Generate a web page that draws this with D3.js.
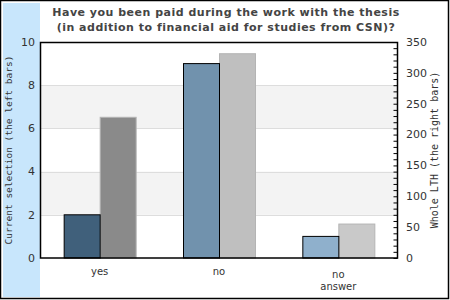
<!DOCTYPE html>
<html>
<head>
<meta charset="utf-8">
<script src="https://cdn.jsdelivr.net/npm/d3@7"></script>
<style>
  body { margin: 0; background: #fff; }
  svg { display: block; }
</style>
</head>
<body>
<div id="chart"></div>
<script>
// chart data
var categories = ["yes", "no", "no answer"];
var leftValues = [2, 9, 1];          // current selection
var rightValues = [228, 331, 55];    // whole LTH
var leftColors = ["#40607b", "#7192ad", "#8fb0cc"];
var rightColors = ["#8a8a8a", "#bfbfbf", "#c9c9c9"];
var leftTicks = [0, 2, 4, 6, 8, 10];
var rightTicks = [0, 50, 100, 150, 200, 250, 300, 350];
var titleLines = ["Have you been paid during the work with the thesis",
                  "(in addition to financial aid for studies from CSN)?"];

var width = 450, height = 300;
var margin = {top: 42, right: 52, bottom: 42, left: 40};
var plotW = width - margin.left - margin.right;
var plotH = height - margin.top - margin.bottom;

var svg = d3.select("#chart").append("svg")
    .attr("width", width)
    .attr("height", height);

// side panel and frame
svg.append("rect")
    .attr("x", 3).attr("y", 3)
    .attr("width", 37).attr("height", 294)
    .attr("fill", "#c8e6fc");

svg.append("rect")
    .attr("x", 0.5).attr("y", 0.5)
    .attr("width", 448).attr("height", 298)
    .attr("fill", "none")
    .attr("stroke", "#000")
    .attr("stroke-width", 1.5);

var g = svg.append("g")
    .attr("transform", "translate(" + margin.left + "," + margin.top + ")");

var x = d3.scaleBand()
    .domain(categories)
    .range([0, plotW]);

var yLeft = d3.scaleLinear().domain([0, 10]).range([plotH, 0]);
var yRight = d3.scaleLinear().domain([0, 350]).range([plotH, 0]);

// alternating bands
var bands = [[2, 4], [6, 8]];
g.selectAll(".band")
    .data(bands)
    .enter().append("rect")
    .attr("x", 0)
    .attr("width", plotW)
    .attr("y", function(d) { return yLeft(d[1]); })
    .attr("height", function(d) { return yLeft(d[0]) - yLeft(d[1]); })
    .attr("fill", "#f3f3f3");

// grid lines
g.selectAll(".grid")
    .data(leftTicks.slice(1, -1))
    .enter().append("line")
    .attr("x1", 0).attr("x2", plotW)
    .attr("y1", function(d) { return Math.round(yLeft(d)) + 0.5; })
    .attr("y2", function(d) { return Math.round(yLeft(d)) + 0.5; })
    .attr("stroke", "#dddddd");

var barW = 36;

// right bars (whole LTH)
g.selectAll(".rbar")
    .data(rightValues)
    .enter().append("rect")
    .attr("x", function(d, i) { return x(categories[i]) + x.bandwidth() / 2 + 0.5; })
    .attr("y", function(d) { return yRight(d); })
    .attr("width", barW)
    .attr("height", function(d) { return plotH - yRight(d); })
    .attr("fill", function(d, i) { return rightColors[i]; })
    .attr("stroke", "#b4b4b4")
    .attr("stroke-width", 1);

// left bars (current selection)
g.selectAll(".lbar")
    .data(leftValues)
    .enter().append("rect")
    .attr("x", function(d, i) { return x(categories[i]) + x.bandwidth() / 2 - barW + 0.5; })
    .attr("y", function(d) { return yLeft(d); })
    .attr("width", barW)
    .attr("height", function(d) { return plotH - yLeft(d); })
    .attr("fill", function(d, i) { return leftColors[i]; })
    .attr("stroke", "#000")
    .attr("stroke-width", 1);

// plot frame
g.append("rect")
    .attr("x", 0.5).attr("y", 0.5)
    .attr("width", plotW - 1).attr("height", plotH - 0.5)
    .attr("fill", "none")
    .attr("stroke", "#000")
    .attr("stroke-width", 1.5);

// left axis labels
g.selectAll(".ltick")
    .data(leftTicks)
    .enter().append("text")
    .attr("x", -5)
    .attr("y", function(d) { return yLeft(d); })
    .attr("dy", "0.35em")
    .attr("text-anchor", "end")
    .attr("font-family", "DejaVu Sans")
    .attr("font-size", 11)
    .attr("fill", "#333")
    .text(function(d) { return d; });

// right axis with inward minor ticks
var rightAxis = d3.axisLeft(yRight)
    .tickValues(d3.range(0, 351, 10))
    .tickSize(4)
    .tickFormat("");
var ra = g.append("g")
    .attr("transform", "translate(" + (plotW - 0.5) + ",0)")
    .call(rightAxis);
ra.select(".domain").remove();
ra.selectAll("line").attr("stroke", "#000");

g.selectAll(".rtick")
    .data(rightTicks)
    .enter().append("text")
    .attr("x", plotW + 8)
    .attr("y", function(d) { return yRight(d); })
    .attr("dy", "0.35em")
    .attr("text-anchor", "start")
    .attr("font-family", "DejaVu Sans")
    .attr("font-size", 11)
    .attr("fill", "#333")
    .text(function(d) { return d; });

// category labels
g.selectAll(".xlab")
    .data(categories)
    .enter().append("text")
    .attr("x", function(d) { return x(d) + x.bandwidth() / 2; })
    .attr("y", plotH + 17)
    .attr("text-anchor", "middle")
    .attr("font-family", "DejaVu Sans")
    .attr("font-size", 10)
    .attr("fill", "#333")
    .each(function(d) {
        var words = d.split(" ");
        var t = d3.select(this);
        if (words.length > 1) t.attr("y", plotH + 20);
        words.forEach(function(w, i) {
            t.append("tspan")
                .attr("x", x(d) + x.bandwidth() / 2)
                .attr("dy", i === 0 ? 0 : "1.2em")
                .text(w);
        });
    });

// axis titles
svg.append("text")
    .attr("transform", "translate(12," + (margin.top + plotH / 2) + ") rotate(-90)")
    .attr("text-anchor", "middle")
    .attr("font-family", "DejaVu Sans Mono")
    .attr("font-size", 9.5)
    .attr("fill", "#333")
    .text("Current selection (the left bars)");

svg.append("text")
    .attr("transform", "translate(438," + (margin.top + plotH / 2) + ") rotate(-90)")
    .attr("text-anchor", "middle")
    .attr("font-family", "DejaVu Sans Mono")
    .attr("font-size", 10)
    .attr("fill", "#333")
    .text("Whole LTH (the right bars)");

// title
svg.selectAll(".title")
    .data(titleLines)
    .enter().append("text")
    .attr("x", 226)
    .attr("y", function(d, i) { return 16 + i * 15; })
    .attr("text-anchor", "middle")
    .attr("font-family", "DejaVu Sans")
    .attr("font-weight", "bold")
    .attr("font-size", 11)
    .attr("letter-spacing", 0.5)
    .attr("fill", "#444")
    .text(function(d) { return d; });
</script>
</body>
</html>
